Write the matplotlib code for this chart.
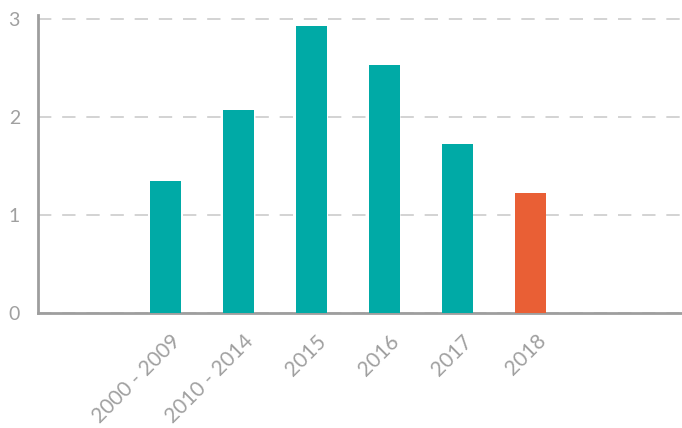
import matplotlib
matplotlib.use("Agg")
import matplotlib.pyplot as plt
import matplotlib.transforms as mtransforms

categories = ["2000 - 2009", "2010 - 2014", "2015", "2016", "2017", "2018"]
values = [1.35, 2.07, 2.93, 2.53, 1.72, 1.22]
colors = ["#00aaa6", "#00aaa6", "#00aaa6", "#00aaa6", "#00aaa6", "#e95f35"]
yticks = [0, 1, 2, 3]

plt.rcParams["font.family"] = ["Lato", "DejaVu Sans"]

fig = plt.figure(figsize=(6.82, 4.28), dpi=100)
ax = fig.add_axes([38 / 682, 1 - 313 / 428, 1 - 38 / 682, (313 - 15) / 428])

x = list(range(len(categories)))
ax.bar(x, values, width=0.425, color=colors, zorder=3)

ax.set_xlim(-1.747, 7.075)
ax.set_ylim(0, 3.04)
ax.set_yticks(yticks)
ax.set_yticklabels([str(t) for t in yticks])
ax.set_xticks(x)
ax.set_xticklabels([])

# rotated category labels, anchored at their right end just below each bar
base = mtransforms.blended_transform_factory(ax.transData, ax.transAxes)
shift = mtransforms.ScaledTranslation(12 / 100, -25 / 100, fig.dpi_scale_trans)
for xi, name in zip(x, categories):
    ax.text(xi, 0, name, transform=base + shift, rotation=45,
            rotation_mode="anchor", ha="right", va="center",
            fontsize=15, color="#a0a0a0", clip_on=False)

ax.tick_params(axis="both", length=0, labelsize=14, labelcolor="#a0a0a0")
ax.tick_params(axis="y", pad=13)

ax.yaxis.grid(True, color="#cccccc", linewidth=1.2, linestyle=(0, (8, 6.5)), zorder=0)
ax.xaxis.grid(False)
for s in ["top", "right"]:
    ax.spines[s].set_visible(False)
for s in ["left", "bottom"]:
    ax.spines[s].set_color("#9e9e9e")
    ax.spines[s].set_linewidth(2)

fig.savefig("out.png", dpi=100)
